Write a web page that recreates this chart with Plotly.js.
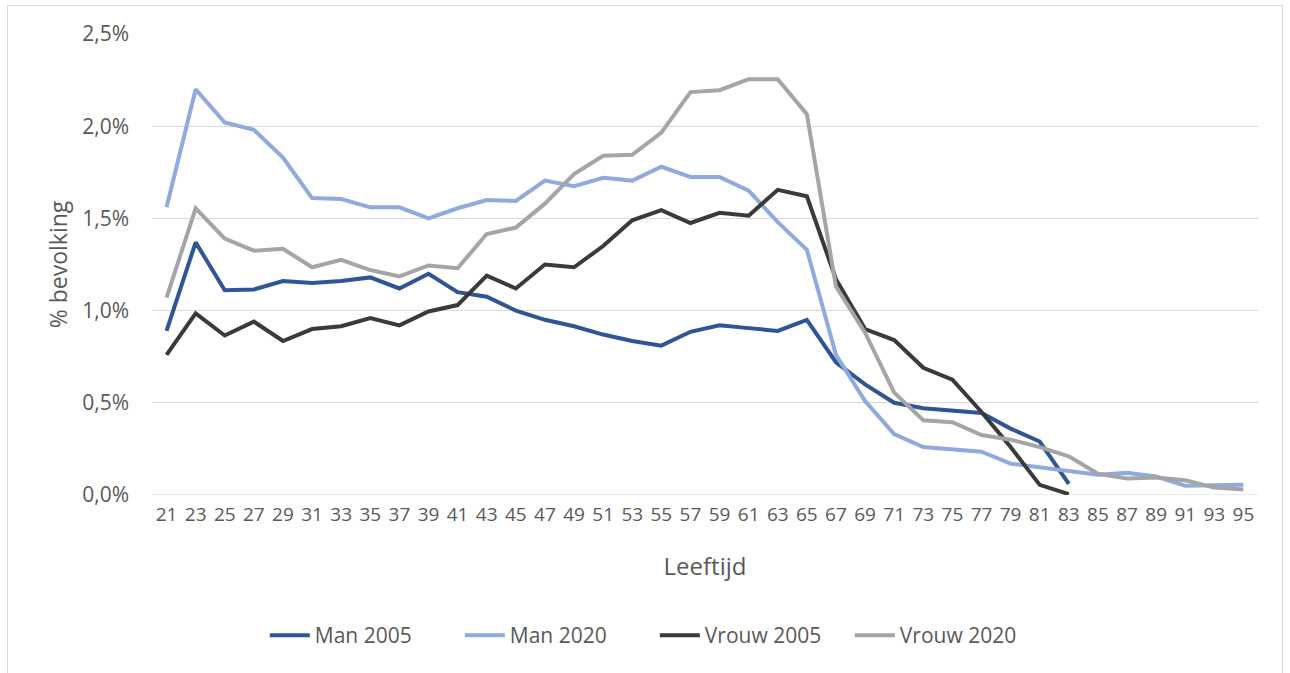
<!DOCTYPE html>
<html>
<head>
<meta charset="utf-8">
<script src="https://cdn.plot.ly/plotly-3.0.1.min.js"></script>
<style>
  html, body { margin: 0; padding: 0; background: #fff; }
  #chart { width: 1290px; height: 673px; }
  #frame { position: absolute; left: 7px; top: 5px; width: 1274px; height: 700px; border: 1px solid #D9D9D9; pointer-events: none; }
</style>
</head>
<body>
<div id="chart"></div>
<div id="frame"></div>
<script>
const ages = [21,23,25,27,29,31,33,35,37,39,41,43,45,47,49,51,53,55,57,59,61,63,65,67,69,71,73,75,77,79,81,83,85,87,89,91,93,95];
const tickLabels = ages.map(String);
const yTickVals = [0, 0.5, 1, 1.5, 2, 2.5];
const yTickLabels = ['0,0%', '0,5%', '1,0%', '1,5%', '2,0%', '2,5%'];

const man2005 = [0.89,1.37,1.11,1.115,1.16,1.15,1.16,1.18,1.12,1.20,1.10,1.075,1.00,0.95,0.915,0.87,0.835,0.81,0.885,0.92,0.905,0.89,0.95,0.72,0.60,0.50,0.47,0.455,0.445,0.36,0.29,0.06];
const man2020 = [1.56,2.20,2.02,1.98,1.83,1.61,1.605,1.56,1.56,1.50,1.555,1.60,1.595,1.705,1.675,1.72,1.705,1.78,1.725,1.725,1.65,1.48,1.33,0.76,0.51,0.33,0.26,0.245,0.235,0.17,0.15,0.13,0.11,0.12,0.10,0.05,0.055,0.055];
const vrouw2005 = [0.76,0.985,0.865,0.94,0.835,0.90,0.915,0.96,0.92,0.995,1.03,1.19,1.12,1.25,1.235,1.35,1.49,1.545,1.475,1.53,1.515,1.655,1.62,1.17,0.90,0.84,0.69,0.625,0.45,0.26,0.055,0.005];
const vrouw2020 = [1.07,1.555,1.39,1.325,1.335,1.235,1.275,1.22,1.185,1.245,1.23,1.415,1.45,1.58,1.74,1.84,1.845,1.965,2.185,2.195,2.255,2.255,2.065,1.13,0.88,0.555,0.405,0.395,0.325,0.30,0.26,0.21,0.115,0.09,0.095,0.08,0.04,0.03];

const seriesNames = ['Man 2005','Man 2020','Vrouw 2005','Vrouw 2020'];
const seriesData = [man2005, man2020, vrouw2005, vrouw2020];
const seriesColors = ['#2F5597','#8FAADC','#3A3A3A','#A5A5A5'];

const FONT = '"Open Sans", "Liberation Sans", Arial, sans-serif';
const GREY = '#595959';

const traces = seriesData.map((vals, i) => ({
  type: 'scatter',
  mode: 'lines',
  name: seriesNames[i],
  x: ages.slice(0, vals.length),
  y: vals,
  line: { color: seriesColors[i], width: 4 },
  hoverinfo: 'x+y+name'
}));

const layout = {
  width: 1290,
  height: 673,
  margin: { l: 152, r: 32, t: 34, b: 178 },
  paper_bgcolor: '#fff',
  plot_bgcolor: '#fff',
  showlegend: true,
  font: { family: FONT, color: GREY, size: 18 },
  xaxis: {
    range: [20, 96],
    tickmode: 'array',
    tickvals: ages,
    ticktext: tickLabels,
    showgrid: false,
    zeroline: false,
    showline: false,
    ticks: '',
    ticklabelstandoff: 6,
    tickfont: { family: FONT, size: 19, color: GREY },
    title: { text: 'Leeftijd', font: { family: FONT, size: 24, color: GREY }, standoff: 32 },
    fixedrange: true
  },
  yaxis: {
    range: [0, 2.5],
    tickmode: 'array',
    tickvals: yTickVals,
    ticktext: yTickLabels,
    showgrid: true,
    gridcolor: '#D9D9D9',
    gridwidth: 1,
    zeroline: false,
    showline: false,
    ticks: '',
    ticklabelstandoff: 22,
    tickfont: { family: FONT, size: 21, color: GREY },
    title: { text: '% bevolking', font: { family: FONT, size: 23, color: GREY }, standoff: 8 },
    fixedrange: true
  },
  legend: {
    orientation: 'h',
    x: 0.102,
    xanchor: 'left',
    y: -0.305,
    yanchor: 'middle',
    entrywidth: 140,
    entrywidthmode: 'pixels',
    itemwidth: 40,
    font: { family: FONT, size: 21, color: GREY }
  },
  shapes: [{
    type: 'line', xref: 'paper', yref: 'y', x0: 0, x1: 1, y0: 0, y1: 0,
    line: { color: '#D9D9D9', width: 1 }, layer: 'below'
  }]
};

Plotly.newPlot('chart', traces, layout, { displayModeBar: false, staticPlot: true });
</script>
</body>
</html>
